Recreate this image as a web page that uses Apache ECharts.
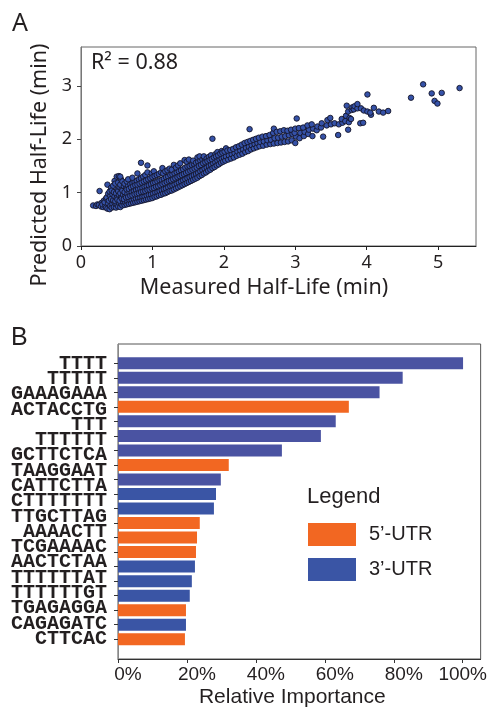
<!DOCTYPE html>
<html>
<head>
<meta charset="utf-8">
<script src="https://cdn.jsdelivr.net/npm/echarts@6/dist/echarts.min.js"></script>
<style>
  html, body { margin: 0; padding: 0; background: #fff; }
  #chart { width: 490px; height: 711px; }
</style>
</head>
<body>
<div id="chart"></div>
<script>
// A: measured vs predicted half-life (min)
var halfLife = [
  [0.17,0.76],[0.21,0.75],[0.23,0.78],[0.26,1.03],[0.25,0.77],[0.28,0.74],[0.29,0.81],
  [0.31,0.73],[0.30,0.78],[0.32,0.85],[0.34,0.76],[0.33,0.82],[0.35,0.89],[0.35,0.72],
  [0.37,0.70],[0.38,0.80],[0.36,0.91],[0.38,0.98],[0.37,1.15],
  [0.40,0.69],[0.41,0.75],[0.39,0.85],[0.41,0.94],[0.40,1.02],[0.42,1.09],
  [0.43,0.72],[0.44,0.79],[0.42,0.88],[0.44,0.97],[0.43,1.04],
  [0.46,0.73],[0.47,0.81],[0.45,0.86],[0.47,0.93],[0.46,1.01],[0.45,1.13],[0.47,1.22],
  [0.49,0.72],[0.50,0.78],[0.48,0.84],[0.50,0.90],[0.49,0.99],[0.51,1.06],[0.48,1.17],[0.50,1.30],
  [0.52,0.74],[0.53,0.81],[0.51,0.87],[0.53,0.96],[0.52,1.03],[0.54,1.10],[0.52,1.19],[0.53,1.31],
  [0.55,0.73],[0.56,0.79],[0.54,0.85],[0.56,0.92],[0.55,0.99],[0.57,1.07],[0.55,1.15],[0.56,1.25],[0.55,1.30],
  [0.58,0.76],[0.59,0.83],[0.57,0.89],[0.59,0.96],[0.58,1.04],[0.60,1.12],[0.58,1.21],
  [0.61,0.77],[0.62,0.82],[0.60,0.88],[0.62,0.95],[0.61,1.01],[0.63,1.09],[0.61,1.17],
  [0.64,0.78],[0.65,0.84],[0.63,0.91],[0.65,0.98],[0.64,1.06],[0.66,1.13],[0.64,1.21],
  [0.67,0.79],[0.68,0.86],[0.66,0.92],[0.68,1.00],[0.67,1.07],[0.69,1.16],[0.66,1.25],
  [0.70,0.80],[0.71,0.86],[0.69,0.94],[0.71,1.01],[0.70,1.10],[0.72,1.18],
  [0.73,0.81],[0.74,0.88],[0.72,0.95],[0.74,1.03],[0.73,1.12],[0.75,1.20],[0.72,1.28],
  [0.76,0.82],[0.77,0.89],[0.75,0.97],[0.77,1.05],[0.76,1.14],[0.78,1.22],
  [0.79,0.83],[0.80,0.90],[0.78,0.98],[0.80,1.07],[0.79,1.15],[0.81,1.25],[0.79,1.36],
  [0.82,0.84],[0.83,0.91],[0.81,0.99],[0.83,1.08],[0.82,1.17],[0.84,1.27],
  [0.85,0.85],[0.86,0.92],[0.84,1.01],[0.86,1.09],[0.85,1.19],[0.87,1.30],[0.84,1.56],
  [0.88,0.86],[0.89,0.93],[0.87,1.02],[0.89,1.11],[0.88,1.21],[0.90,1.33],
  [0.91,0.87],[0.92,0.95],[0.90,1.03],[0.92,1.12],[0.91,1.23],[0.93,1.38],
  [0.94,0.88],[0.95,0.96],[0.93,1.05],[0.95,1.14],[0.94,1.25],[0.93,1.51],
  [0.97,0.89],[0.98,0.97],[0.96,1.06],[0.98,1.16],[0.97,1.27],[0.99,1.36],
  [1.00,0.90],[1.01,0.98],[0.99,1.08],[1.01,1.18],[1.00,1.29],[1.02,1.40],
  [1.03,0.92],[1.04,1.00],[1.02,1.09],[1.04,1.19],[1.03,1.31],
  [1.06,0.93],[1.07,1.01],[1.05,1.11],[1.07,1.21],[1.06,1.33],
  [1.09,0.95],[1.10,1.03],[1.08,1.12],[1.10,1.23],[1.09,1.35],
  [1.12,0.96],[1.13,1.05],[1.11,1.14],[1.13,1.24],[1.12,1.38],[1.14,1.46],
  [1.15,0.98],[1.16,1.07],[1.14,1.16],[1.16,1.26],[1.15,1.36],
  [1.18,0.99],[1.19,1.08],[1.17,1.18],[1.19,1.29],[1.18,1.40],
  [1.21,1.01],[1.22,1.10],[1.20,1.20],[1.22,1.30],[1.21,1.42],
  [1.24,1.03],[1.25,1.12],[1.23,1.22],[1.25,1.33],[1.24,1.45],
  [1.27,1.04],[1.28,1.13],[1.26,1.23],[1.28,1.34],[1.27,1.43],
  [1.30,1.06],[1.31,1.15],[1.29,1.25],[1.31,1.36],[1.30,1.52],
  [1.33,1.08],[1.34,1.17],[1.32,1.27],[1.34,1.38],[1.33,1.47],
  [1.36,1.10],[1.37,1.19],[1.35,1.29],[1.37,1.40],[1.36,1.51],
  [1.39,1.12],[1.40,1.21],[1.38,1.31],[1.40,1.42],[1.39,1.55],
  [1.42,1.14],[1.43,1.23],[1.41,1.33],[1.43,1.44],
  [1.45,1.16],[1.46,1.25],[1.44,1.35],[1.46,1.47],[1.45,1.61],
  [1.48,1.18],[1.49,1.27],[1.47,1.37],[1.49,1.49],[1.48,1.58],
  [1.51,1.20],[1.52,1.29],[1.50,1.39],[1.52,1.50],[1.51,1.62],
  [1.54,1.22],[1.55,1.31],[1.53,1.41],[1.55,1.52],
  [1.57,1.24],[1.58,1.33],[1.56,1.43],[1.58,1.54],[1.57,1.60],
  [1.60,1.26],[1.61,1.35],[1.59,1.45],[1.61,1.56],
  [1.63,1.28],[1.64,1.37],[1.62,1.47],[1.64,1.58],[1.63,1.66],
  [1.66,1.31],[1.67,1.40],[1.65,1.50],[1.67,1.60],[1.66,1.68],
  [1.69,1.33],[1.70,1.42],[1.68,1.52],[1.70,1.62],
  [1.72,1.36],[1.73,1.45],[1.71,1.55],[1.73,1.65],[1.72,1.68],
  [1.75,1.38],[1.76,1.47],[1.74,1.57],[1.76,1.64],
  [1.78,1.41],[1.79,1.50],[1.77,1.59],[1.79,1.67],
  [1.81,1.43],[1.82,1.52],[1.80,1.61],[1.82,1.70],
  [1.84,1.46],[1.85,1.55],[1.83,1.63],[1.84,2.01],
  [1.87,1.48],[1.88,1.57],[1.86,1.66],[1.88,1.72],
  [1.90,1.51],[1.91,1.60],[1.89,1.68],[1.91,1.76],
  [1.93,1.53],[1.94,1.62],[1.92,1.70],
  [1.96,1.56],[1.97,1.64],[1.95,1.73],[1.97,1.78],
  [1.99,1.58],[2.00,1.66],[1.98,1.75],
  [2.02,1.60],[2.03,1.68],[2.01,1.77],[2.03,1.83],
  [2.06,1.62],[2.07,1.70],[2.05,1.79],
  [2.10,1.64],[2.11,1.72],[2.09,1.80],
  [2.14,1.66],[2.15,1.74],[2.13,1.82],
  [2.18,1.69],[2.19,1.77],[2.17,1.85],
  [2.22,1.71],[2.23,1.79],[2.21,1.87],
  [2.26,1.73],[2.27,1.81],[2.25,1.90],
  [2.30,1.76],[2.31,1.84],[2.29,1.93],
  [2.34,1.78],[2.35,1.86],[2.33,1.95],[2.36,2.19],
  [2.38,1.81],[2.39,1.89],[2.37,1.97],
  [2.42,1.83],[2.43,1.91],[2.41,1.99],
  [2.46,1.85],[2.47,1.93],[2.45,2.01],
  [2.50,1.87],[2.51,1.95],[2.49,2.03],
  [2.55,1.88],[2.56,1.96],[2.54,2.05],
  [2.60,1.90],[2.61,1.98],[2.59,2.06],
  [2.65,1.91],[2.66,1.99],[2.64,2.08],
  [2.70,1.92],[2.71,2.02],[2.69,2.12],[2.70,2.20],
  [2.75,1.93],[2.76,2.03],[2.74,2.14],
  [2.80,1.94],[2.81,2.05],[2.79,2.15],
  [2.85,1.95],[2.86,2.06],[2.84,2.17],
  [2.90,1.96],[2.91,2.08],[2.89,2.16],
  [2.95,1.98],[2.96,2.10],[2.94,2.18],
  [3.00,1.93],[3.01,2.05],[2.99,2.12],[3.00,2.20],[3.02,2.39],
  [3.06,2.02],[3.07,2.12],[3.05,2.21],
  [3.12,2.06],[3.13,2.14],[3.11,2.22],
  [3.18,2.10],[3.19,2.18],[3.17,2.26],
  [3.24,2.06],[3.25,2.20],[3.23,2.28],
  [3.30,2.17],[3.31,2.24],[3.36,2.22],[3.37,2.30],[3.39,2.05],
  [3.44,2.26],[3.45,2.36],[3.50,2.28],[3.49,2.40],[3.55,2.30],
  [3.60,2.08],[3.61,2.28],[3.66,2.31],[3.65,2.38],
  [3.70,2.34],[3.71,2.44],[3.72,2.63],
  [3.74,2.18],[3.75,2.32],[3.76,2.40],[3.74,2.52],
  [3.78,2.38],[3.79,2.55],[3.80,2.60],[3.82,2.56],[3.83,2.62],
  [3.87,2.58],[3.87,2.66],[3.91,2.30],[3.92,2.58],[3.95,2.31],[3.96,2.54],
  [4.01,2.84],[4.01,2.52],[4.06,2.46],[4.05,2.50],[4.10,2.59],
  [4.17,2.52],[4.23,2.50],[4.30,2.53],
  [4.62,2.78],[4.79,3.03],[4.91,2.86],[4.95,2.72],[4.99,2.67],[5.05,2.87],[5.30,2.96]
];
var xTicksA = [0, 1, 2, 3, 4, 5];
var yTicksA = [0, 1, 2, 3];
var r2Text = 'R² = 0.88';

// B: relative importance of motifs (the figure shows 19 labels for 20 bars)
var motifs = ['TTTT', 'TTTTT', 'GAAAGAAA', 'ACTACCTG', 'TTT', 'TTTTTT', 'GCTTCTCA',
  'TAAGGAAT', 'CATTCTTA', 'CTTTTTTT', 'TTGCTTAG', 'AAAACTT', 'TCGAAAAC', 'AACTCTAA',
  'TTTTTTAT', 'TTTTTTGT', 'TGAGAGGA', 'CAGAGATC', 'CTTCAC'];
var importance = [100, 82.5, 75.8, 66.9, 63.1, 58.8, 47.5, 32.1, 29.8, 28.4,
  27.8, 23.7, 22.9, 22.6, 22.3, 21.4, 20.8, 19.7, 19.7, 19.4];
var region = ['3', '3', '3', '5', '3', '3', '3', '5', '3', '3',
  '3', '5', '5', '5', '3', '3', '3', '5', '3', '5'];
var xTicksB = [0, 20, 40, 60, 80, 100];

var sans = 'Noto Sans';
var arial = 'Liberation Sans';
var ink = '#231f20';
var orange = '#f26722';
var blue = '#3a55a5';

var barSlots = importance.map(function (v, i) { return String(i + 1); });
var fivePrime = importance.map(function (v, i) { return region[i] === '5' ? v : null; });
var threePrime = importance.map(function (v, i) { return region[i] === '3' ? v : null; });

var chart = echarts.init(document.getElementById('chart'));

chart.setOption({
  animation: false,
  title: [
    { text: 'A', left: 12, top: 11, padding: 0, textStyle: { fontFamily: sans, fontSize: 25, fontWeight: 'normal', color: ink } },
    { text: r2Text, left: 91, top: 52, padding: 0, textStyle: { fontFamily: sans, fontSize: 21.5, fontWeight: 'normal', color: ink } },
    { text: 'B', left: 11, top: 326, padding: 0, textStyle: { fontFamily: arial, fontSize: 25, fontWeight: 'normal', color: ink } },
    { text: 'Legend', left: 307, top: 486, padding: 0, textStyle: { fontFamily: arial, fontSize: 22, fontWeight: 'normal', color: ink } }
  ],
  legend: {
    data: [
      { name: '5’-UTR', itemStyle: { color: orange } },
      { name: '3’-UTR', itemStyle: { color: blue } }
    ],
    orient: 'vertical',
    left: 308,
    top: 523,
    padding: 0,
    itemWidth: 48,
    itemHeight: 23,
    itemGap: 12,
    icon: 'rect',
    selectedMode: false,
    textStyle: { fontFamily: arial, fontSize: 20, color: ink, padding: [0, 0, 0, 8] }
  },
  grid: [
    { left: 81, right: 14, top: 47, bottom: 465, show: true, borderColor: '#666', borderWidth: 1 },
    { left: 118, right: 9, top: 344, bottom: 52, show: true, borderColor: '#555', borderWidth: 1 },
    { left: 118, right: 9, top: 356, bottom: 64.5 }
  ],
  xAxis: [
    {
      gridIndex: 0, type: 'value', min: 0, max: 5.53, interval: 1,
      name: 'Measured Half-Life (min)', nameLocation: 'middle', nameGap: 31,
      nameTextStyle: { fontFamily: sans, fontSize: 21.5, color: ink, padding: [0, 29, 0, 0] },
      axisLine: { lineStyle: { color: '#222' } },
      axisTick: { length: 4, customValues: xTicksA, lineStyle: { color: '#222' } },
      axisLabel: { customValues: xTicksA, margin: 8, fontFamily: sans, fontSize: 18, color: ink },
      splitLine: { show: false }
    },
    {
      gridIndex: 1, type: 'value', min: 0, max: 105.2, interval: 20,
      name: 'Relative Importance', nameLocation: 'middle', nameGap: 28,
      nameTextStyle: { fontFamily: arial, fontSize: 21, color: ink, padding: [0, 14, 0, 0] },
      axisLine: { lineStyle: { color: '#333' } },
      axisTick: { length: 4, customValues: xTicksB, lineStyle: { color: '#333' } },
      axisLabel: {
        customValues: xTicksB, margin: 6, fontFamily: arial, fontSize: 19, color: ink,
        formatter: function (v) { return v === 100 ? '{e|100%}' : '{s|' + v + '%}'; },
        rich: {
          s: { fontFamily: arial, fontSize: 19, color: ink, padding: [0, 0, 0, 20] },
          e: { fontFamily: arial, fontSize: 19, color: ink }
        }
      },
      splitLine: { show: false }
    },
    {
      gridIndex: 2, type: 'value', min: 0, max: 105.2, show: false
    }
  ],
  yAxis: [
    {
      gridIndex: 0, type: 'value', min: 0, max: 3.73, interval: 1,
      name: 'Predicted Half-Life (min)', nameLocation: 'middle', nameGap: 27,
      nameTextStyle: { fontFamily: sans, fontSize: 21.5, color: ink, padding: [0, 37, 0, 0] },
      axisLine: { lineStyle: { color: '#777' } },
      axisTick: { length: 4, customValues: yTicksA, lineStyle: { color: '#444' } },
      axisLabel: { customValues: yTicksA, margin: 9, fontFamily: sans, fontSize: 18, color: ink },
      splitLine: { show: false }
    },
    {
      gridIndex: 1, type: 'value', min: 0, max: 1,
      axisLine: { show: true, lineStyle: { color: '#888' } },
      axisTick: { show: false }, axisLabel: { show: false }, splitLine: { show: false }
    },
    {
      gridIndex: 2, type: 'category', data: barSlots, inverse: true,
      axisLine: { show: false },
      axisTick: { show: true, alignWithLabel: true, interval: 0, length: 4, lineStyle: { color: '#333' } },
      axisLabel: { show: false }
    },
    {
      gridIndex: 2, type: 'category', data: motifs, inverse: true, position: 'left',
      axisLine: { show: false }, axisTick: { show: false },
      axisLabel: { interval: 0, margin: 11, fontFamily: 'Liberation Mono', fontWeight: 'bold', fontSize: 20, color: ink }
    }
  ],
  series: [
    {
      type: 'scatter', xAxisIndex: 0, yAxisIndex: 0, data: halfLife,
      symbolSize: 5.5,
      itemStyle: { color: '#3552a8', borderColor: '#141428', borderWidth: 0.9, opacity: 1 }
    },
    {
      name: '5’-UTR', type: 'bar', xAxisIndex: 2, yAxisIndex: 2, stack: 'utr',
      data: fivePrime, barWidth: 12,
      itemStyle: { color: orange }
    },
    {
      name: '3’-UTR', type: 'bar', xAxisIndex: 2, yAxisIndex: 2, stack: 'utr',
      data: threePrime, barWidth: 12,
      itemStyle: {
        color: function (p) { return p.dataIndex < 9 ? '#4a53a2' : blue; }
      }
    }
  ]
});
</script>
</body>
</html>
